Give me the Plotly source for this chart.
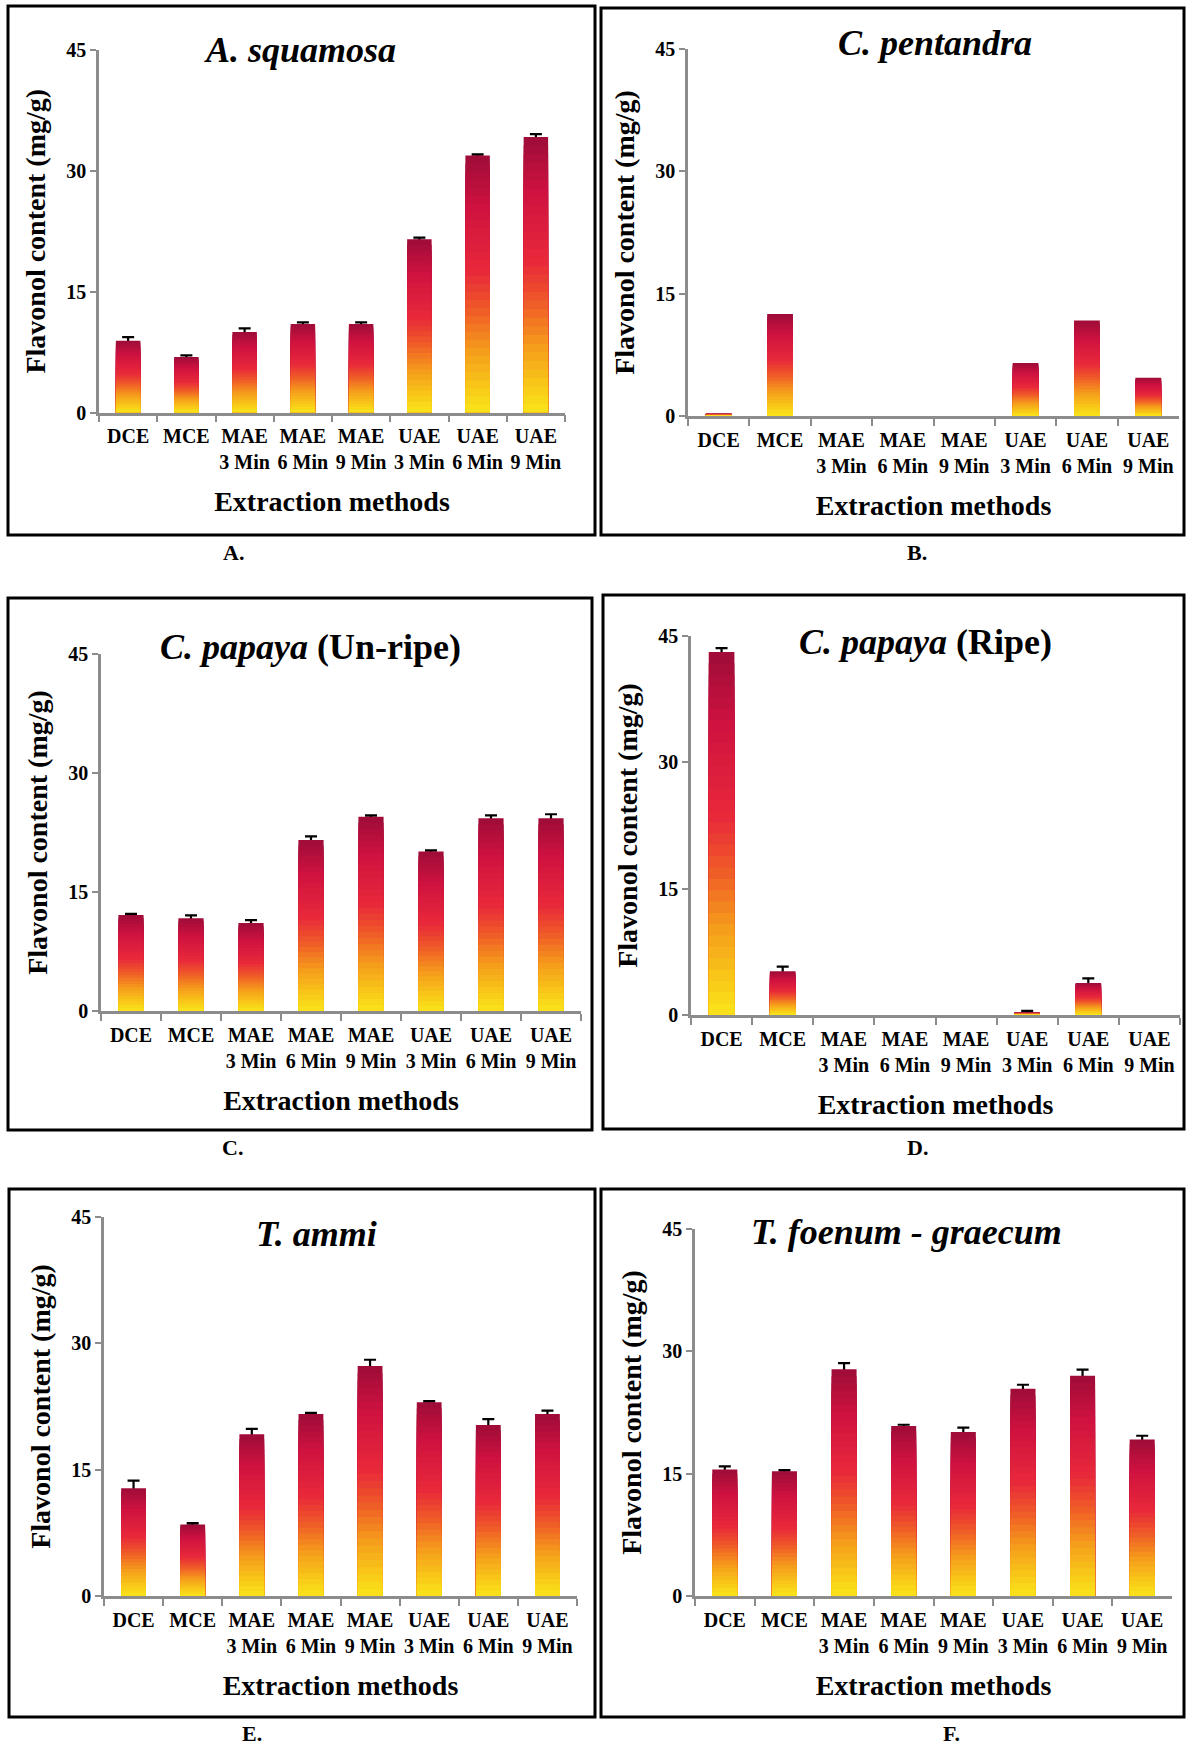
import plotly.graph_objects as go
from plotly.subplots import make_subplots
from plotly.colors import sample_colorscale

# ---------------- data ----------------
categories = ["DCE", "MCE", "MAE<br>3 Min", "MAE<br>6 Min", "MAE<br>9 Min",
              "UAE<br>3 Min", "UAE<br>6 Min", "UAE<br>9 Min"]
y_ticks = [0, 15, 30, 45]

a_squamosa = [8.9, 6.9, 10.0, 11.0, 11.0, 21.5, 31.9, 34.2]
a_squamosa_err = [0.45, 0.2, 0.45, 0.2, 0.2, 0.2, 0.15, 0.35]

c_pentandra = [0.3, 12.5, 0, 0, 0, 6.5, 11.7, 4.7]
c_pentandra_err = [None, None, None, None, None, None, None, None]

c_papaya_unripe = [12.1, 11.7, 11.1, 21.55, 24.5, 20.1, 24.3, 24.3]
c_papaya_unripe_err = [0.15, 0.35, 0.35, 0.45, 0.15, 0.15, 0.35, 0.5]

c_papaya_ripe = [43.1, 5.2, 0, 0, 0, 0.3, 3.8, 0]
c_papaya_ripe_err = [0.45, 0.55, None, None, None, 0.2, 0.55, None]

t_ammi = [12.8, 8.5, 19.2, 21.6, 27.3, 23.0, 20.3, 21.6]
t_ammi_err = [0.9, 0.15, 0.65, 0.15, 0.75, 0.15, 0.7, 0.4]

t_foenum = [15.5, 15.3, 27.8, 20.85, 20.1, 25.4, 27.0, 19.2]
t_foenum_err = [0.4, 0.15, 0.75, 0.15, 0.55, 0.5, 0.75, 0.45]

titles = ["<i>A. squamosa</i>", "<i>C. pentandra</i>", "<i>C. papaya</i> (Un-ripe)",
          "<i>C. papaya</i> (Ripe)", "<i>T. ammi</i>", "<i>T. foenum - graecum</i>"]
panel_labels = ["A.", "B.", "C.", "D.", "E.", "F."]
y_title = "Flavonol content (mg/g)"
x_title = "Extraction methods"

series = [(a_squamosa, a_squamosa_err), (c_pentandra, c_pentandra_err),
          (c_papaya_unripe, c_papaya_unripe_err), (c_papaya_ripe, c_papaya_ripe_err),
          (t_ammi, t_ammi_err), (t_foenum, t_foenum_err)]

# ---------------- layout geometry (pixels) ----------------
W, H = 1186, 1748
plot_boxes = [(99, 565, 50, 412.5), (688, 1179, 49, 416),
              (101, 581, 654, 1011), (691, 1180, 636, 1015),
              (104, 577, 1217, 1596), (695, 1172, 1229, 1596)]
frames = [(8, 595, 6, 535), (601, 1184, 8, 535),
          (8, 592, 598, 1130), (603, 1184, 595, 1129),
          (9, 595, 1189, 1717), (601, 1184, 1189, 1717)]
title_pos = [(300, 50), (935, 43), (310, 647), (925, 642), (316, 1234), (906, 1232)]
label_pos = [(233, 552), (917, 552), (232, 1147), (917, 1147), (252, 1733), (951, 1733)]

FONT = "Liberation Serif"
AXIS_GREY = "#8c8c8c"
gradient = [[0.0, "#fae41a"], [0.1, "#f8c818"], [0.25, "#f5991c"], [0.4, "#ef5a28"],
            [0.55, "#e8283a"], [0.8, "#cf1240"], [1.0, "#9e0b37"]]
N_SEG = 32

fig = make_subplots(rows=3, cols=2)

for i, (vals, errs) in enumerate(series):
    row, col = i // 2 + 1, i % 2 + 1
    # invisible full bar carrying the error bars (drawn underneath the gradient bars)
    fig.add_trace(go.Bar(
        x=categories,
        y=[v if e is not None else None for v, e in zip(vals, errs)],
        marker=dict(color="rgba(0,0,0,0)", line=dict(width=0)),
        error_y=dict(type="data", array=[e if e is not None else 0 for e in errs],
                     symmetric=True, color="black", thickness=2.2, width=6),
        showlegend=False, hoverinfo="skip"), row=row, col=col)
    # gradient body: overlapping bars from full height down to shortest
    for k in range(N_SEG):
        frac_top = (N_SEG - k) / N_SEG
        color = sample_colorscale(gradient, [(N_SEG - k - 0.5) / N_SEG])[0]
        fig.add_trace(go.Bar(
            x=categories, y=[v * frac_top for v in vals],
            marker=dict(color=color, line=dict(width=0)),
            showlegend=False, hoverinfo="skip"), row=row, col=col)

fig.update_layout(barmode="overlay", bargap=0.58,
                  width=W, height=H, margin=dict(l=0, r=0, t=0, b=0),
                  paper_bgcolor="white", plot_bgcolor="white",
                  font=dict(family=FONT, color="black"))

for i in range(6):
    n = "" if i == 0 else str(i + 1)
    x0, x1, y0, y1 = plot_boxes[i]
    fig.layout["xaxis" + n].update(
        domain=[x0 / W, x1 / W], type="category", showline=True, linecolor=AXIS_GREY,
        linewidth=2.5, ticks="outside", tickson="boundaries", ticklen=7,
        tickcolor=AXIS_GREY, tickwidth=2, showgrid=False, zeroline=False,
        tickangle=0,
        tickfont=dict(family=FONT, size=20, color="black", weight="bold"),
        ticklabelstandoff=4, automargin=False,
        title=dict(text=x_title, standoff=20,
                   font=dict(family=FONT, size=28, color="black", weight="bold")))
    fig.layout["yaxis" + n].update(
        domain=[1 - y1 / H, 1 - y0 / H], range=[0, 45], tickmode="array",
        tickvals=y_ticks, showline=True, linecolor=AXIS_GREY, linewidth=2.5,
        ticks="outside", ticklen=6, tickcolor=AXIS_GREY, tickwidth=2,
        showgrid=False, zeroline=False, automargin=False,
        tickfont=dict(family=FONT, size=20, color="black", weight="bold"),
        title=dict(text=y_title, standoff=13,
                   font=dict(family=FONT, size=28, color="black", weight="bold")))

shapes = []
for (fx0, fx1, fy0, fy1) in frames:
    shapes.append(dict(type="rect", xref="paper", yref="paper",
                       x0=fx0 / W, x1=fx1 / W, y0=1 - fy1 / H, y1=1 - fy0 / H,
                       line=dict(color="black", width=3), fillcolor="rgba(0,0,0,0)"))
fig.update_layout(shapes=shapes)

annotations = []
for i in range(6):
    tx, ty = title_pos[i]
    annotations.append(dict(text=titles[i], x=tx / W, y=1 - ty / H, xref="paper",
                            yref="paper", xanchor="center", yanchor="middle",
                            showarrow=False,
                            font=dict(family=FONT, size=36, color="black", weight="bold")))
    lx, ly = label_pos[i]
    annotations.append(dict(text=panel_labels[i], x=lx / W, y=1 - ly / H, xref="paper",
                            yref="paper", xanchor="center", yanchor="middle",
                            showarrow=False,
                            font=dict(family=FONT, size=22, color="black", weight="bold")))
fig.update_layout(annotations=annotations)

fig.write_html("out.html",
               config={"displayModeBar": False},
               post_script="document.body.style.margin='0px';"
                           "document.body.style.overflow='hidden';")
